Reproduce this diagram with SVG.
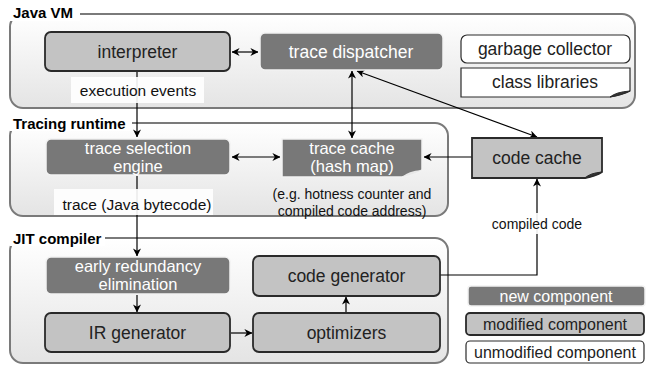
<svg xmlns="http://www.w3.org/2000/svg" width="646" height="371" viewBox="0 0 646 371">
<defs>
<linearGradient id="cg" x1="0" y1="0" x2="0" y2="1">
<stop offset="0" stop-color="#ffffff"/>
<stop offset="1" stop-color="#e4e4e4"/>
</linearGradient>
<marker id="ah" viewBox="0 0 10 10" refX="9.5" refY="5" markerWidth="8" markerHeight="8" markerUnits="userSpaceOnUse" orient="auto-start-reverse">
<path d="M0,0 L10,5 L0,10 L3,5 z" fill="#000"/>
</marker>
</defs>
<style>
.cont{fill:url(#cg);stroke:#7a7a7a;stroke-width:2}
.ttl{font-family:"Liberation Sans",Arial,sans-serif;font-weight:bold;font-size:15px;fill:#000}
.tbg{fill:#fff}
.new{fill:#787878;stroke:#f2f2f2;stroke-width:1.5}
.mod{fill:#c3c3c3;stroke:#2a2a2a;stroke-width:1.8}
.unm{fill:#fff;stroke:#2a2a2a;stroke-width:1.2}
.t{font-family:"Liberation Sans",Arial,sans-serif;font-size:17.5px;text-anchor:middle}
.t2{font-family:"Liberation Sans",Arial,sans-serif;font-size:16.5px;text-anchor:middle}
.w{fill:#fff}
.k{fill:#222}
.s{font-family:"Liberation Sans",Arial,sans-serif;font-size:15.5px;text-anchor:middle;fill:#111}
.n{font-family:"Liberation Sans",Arial,sans-serif;font-size:14px;text-anchor:middle;fill:#111}
.lg{font-family:"Liberation Sans",Arial,sans-serif;font-size:16px;text-anchor:middle}
.c{fill:none;stroke:#000;stroke-width:1.2}
.lbl{fill:#fff;fill-opacity:0.9}
</style>

<g id="java-vm">
<rect class="cont" x="10" y="14" width="625" height="94" rx="13"/>
<rect class="tbg" x="10" y="3" width="70" height="18"/>
<text class="ttl" x="13" y="18">Java VM</text>
</g>
<g id="tracing-runtime">
<rect class="cont" x="10" y="123" width="438" height="93" rx="13"/>
<rect class="tbg" x="10" y="113" width="122" height="18"/>
<text class="ttl" x="13" y="129">Tracing runtime</text>
</g>
<g id="jit-compiler">
<rect class="cont" x="10" y="238" width="438" height="125" rx="13"/>
<rect class="tbg" x="10" y="228" width="95" height="18"/>
<text class="ttl" x="13" y="244">JIT compiler</text>
</g>

<g id="connectors">
<line class="c" x1="137" y1="72" x2="137" y2="137" marker-end="url(#ah)"/>
<line class="c" x1="137" y1="176" x2="137" y2="256" marker-end="url(#ah)"/>
<line class="c" x1="137" y1="295" x2="137" y2="312" marker-end="url(#ah)"/>
<line class="c" x1="232" y1="52" x2="258" y2="52" marker-start="url(#ah)" marker-end="url(#ah)"/>
<line class="c" x1="232" y1="157" x2="280" y2="157" marker-start="url(#ah)" marker-end="url(#ah)"/>
<line class="c" x1="352" y1="71" x2="352" y2="138" marker-start="url(#ah)" marker-end="url(#ah)"/>
<line class="c" x1="357" y1="71" x2="537" y2="137" marker-start="url(#ah)" marker-end="url(#ah)"/>
<line class="c" x1="472" y1="157" x2="424" y2="157" marker-end="url(#ah)"/>
<line class="c" x1="231" y1="333" x2="252" y2="333" marker-end="url(#ah)"/>
<line class="c" x1="346" y1="313" x2="346" y2="297" marker-end="url(#ah)"/>
<polyline class="c" points="440,275 537,275 537,179" marker-end="url(#ah)"/>
</g>

<g id="execution-events">
<rect class="lbl" x="71" y="77" width="133" height="26"/>
<text class="s" x="138" y="96">execution events</text>
</g>
<g id="trace-java-bytecode">
<rect class="lbl" x="54" y="189" width="159" height="26"/>
<text class="s" x="137" y="210">trace (Java bytecode)</text>
</g>
<g id="compiled-code">
<rect class="lbl" x="499" y="213" width="77" height="21"/>
<text class="n" x="537" y="229">compiled code</text>
</g>

<g id="interpreter">
<rect class="mod" x="45" y="32" width="185" height="39" rx="6"/>
<text class="t k" x="137.5" y="58">interpreter</text>
</g>
<g id="trace-dispatcher">
<rect class="new" x="260" y="33" width="183" height="37" rx="5"/>
<text class="t w" x="351" y="58">trace dispatcher</text>
</g>
<g id="garbage-collector">
<rect class="unm" x="461" y="35" width="169" height="28" rx="6"/>
<text class="t k" x="545" y="55">garbage collector</text>
</g>
<g id="class-libraries">
<path class="unm" d="M461,68 H630 V91 Q622,95 610,97 H461 Z"/>
<path d="M610,97 Q616,92 630,91 Q622,95 610,97 Z" fill="#333" stroke="#2a2a2a" stroke-width="1"/>
<text class="t k" x="545" y="88">class libraries</text>
</g>

<g id="trace-selection-engine">
<rect class="new" x="46" y="139" width="184" height="36" rx="5"/>
<text class="t2 w" x="138" y="153.5">trace selection</text>
<text class="t2 w" x="138" y="172">engine</text>
</g>
<g id="trace-cache">
<path class="new" d="M282,139 H422 V170 Q415,174 402,177 H282 Z"/>
<path d="M402,177 Q408,171 422,170 Q415,174 402,177 Z" fill="#e8e8e8"/>
<text class="t2 w" x="352" y="153.5">trace cache</text>
<text class="t2 w" x="352" y="172">(hash map)</text>
</g>
<g id="trace-cache-note">
<text class="n" x="352" y="199">(e.g. hotness counter and</text>
<text class="n" x="352" y="216">compiled code address)</text>
</g>
<g id="code-cache">
<path class="mod" d="M472,138 H602 V172 Q596,176 585,178 H472 Z"/>
<path d="M585,178 Q590,173 602,172 Q596,176 585,178 Z" fill="#333" stroke="#2a2a2a" stroke-width="1"/>
<text class="t k" x="537" y="164">code cache</text>
</g>

<g id="early-redundancy-elimination">
<rect class="new" x="46" y="257" width="184" height="37" rx="5"/>
<text class="t2 w" x="138" y="271.5">early redundancy</text>
<text class="t2 w" x="138" y="290">elimination</text>
</g>
<g id="ir-generator">
<rect class="mod" x="45" y="313" width="185" height="39" rx="6"/>
<text class="t k" x="137.5" y="339">IR generator</text>
</g>
<g id="code-generator">
<rect class="mod" x="253" y="256" width="187" height="40" rx="6"/>
<text class="t k" x="346.5" y="282">code generator</text>
</g>
<g id="optimizers">
<rect class="mod" x="253" y="313" width="187" height="39" rx="6"/>
<text class="t k" x="346.5" y="339">optimizers</text>
</g>

<g id="legend-new">
<rect class="new" x="468" y="286" width="177" height="20" rx="3"/>
<text class="lg w" x="556" y="302">new component</text>
</g>
<g id="legend-modified">
<rect class="mod" x="466" y="313" width="178" height="22" rx="4"/>
<text class="lg k" x="555" y="330">modified component</text>
</g>
<g id="legend-unmodified">
<rect class="unm" x="466" y="341" width="178" height="22" rx="4"/>
<text class="lg k" x="555" y="358">unmodified component</text>
</g>
</svg>
